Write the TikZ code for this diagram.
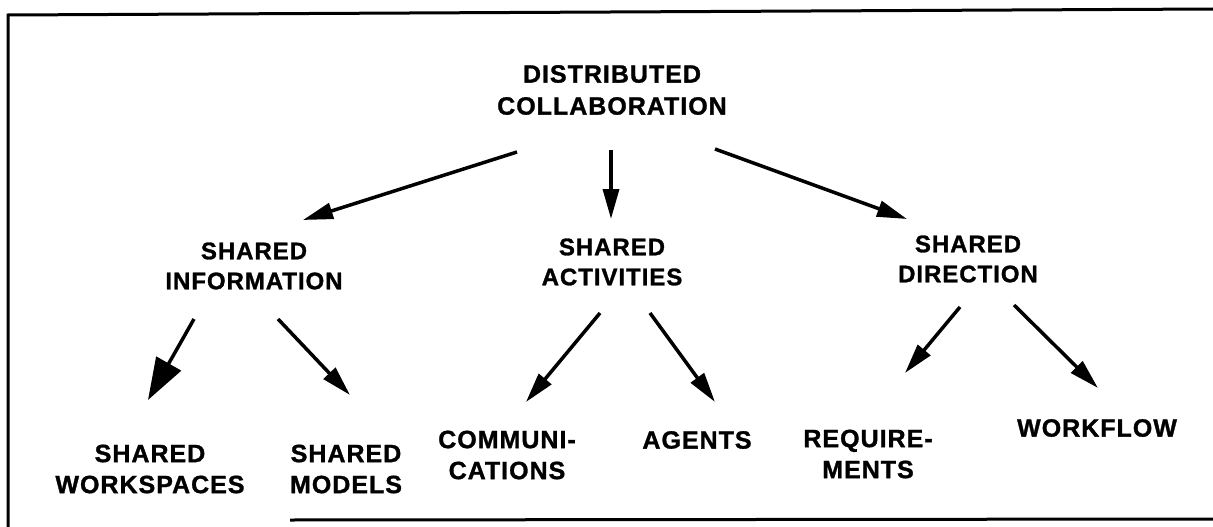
\documentclass[tikz,border=0pt]{standalone}
\usepackage{fontspec}
\setmainfont{Liberation Sans}
\newfontfamily\lblfont[LetterSpace=4,FakeBold=1.2]{Liberation Sans Bold}
\usetikzlibrary{arrows.meta}
\begin{document}
\begin{tikzpicture}[x=1pt,y=-1pt,
  lbl/.style={font=\lblfont\fontsize{24}{30}\selectfont, align=center, inner sep=0pt},
  botlbl/.style={font=\lblfont\fontsize{25}{31}\selectfont, align=center, inner sep=0pt},
  toplbl/.style={font=\lblfont\fontsize{25}{32}\selectfont, align=center, inner sep=0pt},
  arr/.style={line width=3.5pt, -{Triangle[length=30pt,width=16pt]}},
  bigarr/.style={line width=3.5pt, -{Triangle[length=42pt,width=28pt]}},
  frame/.style={line width=3pt}]
\useasboundingbox (0,0) rectangle (1213,527);
\draw[frame] (8,527) -- (8,15) -- (1213,9);
\draw[frame] (290,520) -- (1213,519);

\node[toplbl] (dc) at (612,90) {DISTRIBUTED\\COLLABORATION};
\node[lbl] (si) at (254,266) {SHARED\\INFORMATION};
\node[lbl] (sa) at (612,262) {SHARED\\ACTIVITIES};
\node[lbl] (sd) at (968,259) {SHARED\\DIRECTION};
\node[botlbl] (sw) at (150,469) {SHARED\\WORKSPACES};
\node[botlbl] (sm) at (346,469) {SHARED\\MODELS};
\node[botlbl] (cm) at (507,455) {COMMUNI-\\CATIONS};
\node[botlbl] (ag) at (697,440) {AGENTS};
\node[botlbl] (rq) at (868,454) {REQUIRE-\\MENTS};
\node[botlbl] (wf) at (1097,428) {WORKFLOW};

\coordinate (dc1) at (517,152); \coordinate (si0) at (303,220);
\coordinate (dc2) at (611,150); \coordinate (sa0) at (611,219);
\coordinate (dc3) at (715,149); \coordinate (sd0) at (907,219);
\coordinate (si1) at (194,319); \coordinate (sw0) at (148,400);
\coordinate (si2) at (278,319); \coordinate (sm0) at (350,395);
\coordinate (sa1) at (600,313); \coordinate (cm0) at (526,402);
\coordinate (sa2) at (650,313); \coordinate (ag0) at (715,402);
\coordinate (sd1) at (960,307); \coordinate (rq0) at (905,373);
\coordinate (sd2) at (1014,305); \coordinate (wf0) at (1098,388);

\draw[arr] (dc1) -- (si0);
\draw[arr] (dc2) -- (sa0);
\draw[arr] (dc3) -- (sd0);
\draw[bigarr] (si1) -- (sw0);
\draw[arr] (si2) -- (sm0);
\draw[arr] (sa1) -- (cm0);
\draw[arr] (sa2) -- (ag0);
\draw[arr] (sd1) -- (rq0);
\draw[arr] (sd2) -- (wf0);
\end{tikzpicture}
\end{document}
